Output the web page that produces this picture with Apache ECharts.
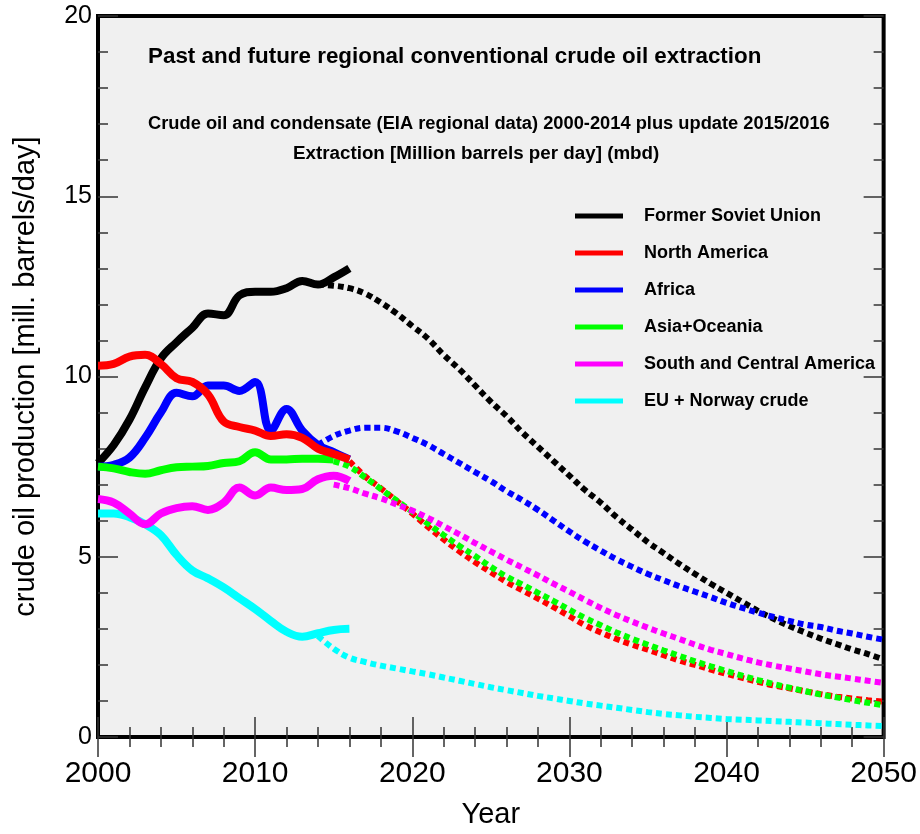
<!DOCTYPE html>
<html>
<head>
<meta charset="utf-8">
<script src="https://cdn.jsdelivr.net/npm/echarts@6/dist/echarts.min.js"></script>
<style>
html,body{margin:0;padding:0;background:#fff;}
#chart{width:920px;height:834px;}
</style>
</head>
<body>
<div id="chart"></div>
<script>
// ---- data ----
const histYears = [2000,2001,2002,2003,2004,2005,2006,2007,2008,2009,2010,2011,2012,2013,2014,2015,2016];
const fsuHist    = [7.6,8.1,8.8,9.7,10.5,10.95,11.35,11.75,11.7,12.25,12.35,12.35,12.45,12.65,12.55,12.75,13.0];
const naHist     = [10.3,10.35,10.55,10.6,10.35,9.95,9.85,9.5,8.75,8.6,8.5,8.35,8.4,8.3,8.0,7.85,7.7];
const africaHist = [7.5,7.55,7.75,8.3,9.0,9.55,9.45,9.75,9.75,9.6,9.85,8.5,9.1,8.5,8.1,7.9,7.7];
const asiaHist   = [7.5,7.45,7.35,7.3,7.4,7.48,7.5,7.52,7.6,7.65,7.9,7.7,7.7,7.72,7.72,7.7,null];
const scaHist    = [6.6,6.5,6.2,5.9,6.2,6.35,6.4,6.3,6.5,6.92,6.7,6.92,6.85,6.88,7.15,7.25,7.1];
const euHist     = [6.2,6.2,6.1,5.9,5.6,5.05,4.62,4.4,4.15,3.85,3.55,3.22,2.92,2.78,2.88,2.97,3.0];

const projYears = [2014,2015,2016,2017,2018,2019,2020,2021,2022,2023,2024,2025,2026,2027,2028,2029,2030,2031,2032,2033,2034,2035,2036,2037,2038,2039,2040,2041,2042,2043,2044,2045,2046,2047,2048,2049,2050];
const fsuProj    = [12.55,12.52,12.45,12.3,12.05,11.75,11.4,11.05,10.6,10.2,9.75,9.3,8.9,8.45,8.05,7.65,7.25,6.85,6.5,6.1,5.75,5.4,5.1,4.8,4.52,4.25,4.0,3.75,3.5,3.28,3.08,2.9,2.73,2.58,2.43,2.3,2.15];
const naProj     = [null,null,7.65,7.23,6.9,6.55,6.2,5.83,5.48,5.15,4.85,4.57,4.3,4.07,3.84,3.6,3.35,3.1,2.9,2.72,2.56,2.42,2.27,2.12,2.0,1.87,1.75,1.64,1.53,1.43,1.35,1.27,1.19,1.12,1.07,1.02,0.98];
const africaProj = [8.1,8.35,8.5,8.58,8.58,8.48,8.3,8.1,7.85,7.6,7.35,7.1,6.82,6.57,6.3,6.0,5.7,5.42,5.17,4.93,4.72,4.52,4.35,4.18,4.03,3.88,3.72,3.58,3.45,3.33,3.22,3.12,3.05,2.95,2.87,2.78,2.7];
const asiaProj   = [null,7.65,7.5,7.2,6.88,6.56,6.25,5.92,5.6,5.3,5.02,4.72,4.45,4.23,4.0,3.77,3.53,3.3,3.1,2.9,2.72,2.56,2.4,2.25,2.1,1.96,1.83,1.7,1.58,1.47,1.37,1.27,1.18,1.1,1.02,0.95,0.88];
const scaProj    = [null,7.0,6.9,6.75,6.62,6.45,6.28,6.08,5.85,5.62,5.38,5.15,4.92,4.7,4.48,4.25,4.03,3.8,3.58,3.38,3.2,3.03,2.87,2.72,2.56,2.42,2.3,2.18,2.07,1.98,1.9,1.82,1.74,1.68,1.62,1.56,1.5];
const euProj     = [2.8,2.45,2.2,2.08,1.98,1.9,1.82,1.74,1.65,1.56,1.47,1.38,1.3,1.22,1.14,1.07,1.0,0.93,0.87,0.81,0.75,0.69,0.64,0.6,0.56,0.53,0.5,0.48,0.46,0.44,0.42,0.4,0.38,0.36,0.34,0.32,0.3];

const seriesNames = ['Former Soviet Union','North America','Africa','Asia+Oceania','South and Central America','EU + Norway crude'];
const xTickLabels = [2000,2010,2020,2030,2040,2050];
const yTickLabels = [0,5,10,15,20];

// ---- build ----
const FONT = 'Liberation Sans, Arial, Helvetica, sans-serif';
const colors = ['#000000','#ff0000','#0000ff','#00ff00','#ff00ff','#00ffff'];
const hist = [fsuHist,naHist,africaHist,asiaHist,scaHist,euHist];
const proj = [fsuProj,naProj,africaProj,asiaProj,scaProj,euProj];

function pairs(xs, ys){ return xs.map((x,i)=>[x, ys[i]]); }

const series = [];
proj.forEach((arr,i)=>{
  series.push({
    name: seriesNames[i] + ' projection',
    type:'line', data: pairs(projYears, arr), showSymbol:false, symbol:'none',
    smooth:0.4, connectNulls:false, silent:true,
    lineStyle:{color:colors[i], width:6, type:[6,4], cap:'butt'},
    itemStyle:{color:colors[i]}, z:2
  });
});
[0,2,3,5,4,1].forEach(i=>{
  series.push({
    name: seriesNames[i],
    type:'line', data: pairs(histYears, hist[i]), showSymbol:false, symbol:'none',
    smooth:0.4, connectNulls:false, silent:true,
    lineStyle:{color:colors[i], width:8, cap:'butt', join:'round'},
    itemStyle:{color:colors[i]}, z:3
  });
});

const tickStyle = {color:'#333', width:1.5};
const xBase = {
  type:'value', min:2000, max:2050, interval:10,
  axisLine:{show:false}, splitLine:{show:false},
  axisTick:{show:true, inside:true, length:20, lineStyle:tickStyle},
  minorTick:{show:true, splitNumber:5, length:10, lineStyle:tickStyle},
};
const yBase = {
  type:'value', min:0, max:20, interval:5,
  axisLine:{show:false}, splitLine:{show:false},
  axisTick:{show:true, inside:true, length:20, lineStyle:tickStyle},
  minorTick:{show:true, splitNumber:5, length:10, lineStyle:tickStyle},
};

const option = {
  animation:false,
  backgroundColor:'#ffffff',
  textStyle:{fontFamily:FONT},
  title:[
    {text:'Past and future regional conventional crude oil extraction', left:143, top:41,
     textStyle:{fontFamily:FONT, fontSize:22.4, fontWeight:'bold', color:'#000'}},
    {text:'Crude oil and condensate (EIA regional data) 2000-2014 plus update 2015/2016', left:143, top:110,
     textStyle:{fontFamily:FONT, fontSize:18.3, fontWeight:'bold', color:'#000'}},
    {text:'Extraction [Million barrels per day] (mbd)', left:288, top:139,
     textStyle:{fontFamily:FONT, fontSize:18.8, fontWeight:'bold', color:'#000'}}
  ],
  legend:{
    data: seriesNames, orient:'vertical', left:570, top:202,
    icon:'rect', itemWidth:48, itemHeight:5, itemGap:19,
    selectedMode:false,
    itemStyle:{borderWidth:0},
    textStyle:{fontFamily:FONT, fontSize:18, fontWeight:'bold', color:'#000', lineHeight:18, padding:[0,0,0,16]}
  },
  grid:{left:98, right:35, top:16, bottom:95, show:true, backgroundColor:'#f0f0f0', borderColor:'#000', borderWidth:4, containLabel:false},
  xAxis:[
    Object.assign({}, xBase, {
      position:'bottom', name:'Year', nameLocation:'middle', nameGap:63,
      nameTextStyle:{fontFamily:FONT, fontSize:29, color:'#000'},
      axisLabel:{show:true, fontFamily:FONT, fontSize:30, color:'#000', margin:22,
        formatter:(v)=> xTickLabels.indexOf(v)>=0 ? String(v) : ''}
    }),
    Object.assign({}, xBase, {position:'top', axisLabel:{show:false}})
  ],
  yAxis:[
    Object.assign({}, yBase, {
      position:'left', name:'crude oil production [mill. barrels/day]', nameLocation:'middle', nameGap:58,
      nameTextStyle:{fontFamily:FONT, fontSize:29, color:'#000'},
      axisLabel:{show:true, fontFamily:FONT, fontSize:25, color:'#000', margin:6,
        formatter:(v)=> yTickLabels.indexOf(v)>=0 ? String(v) : ''}
    }),
    Object.assign({}, yBase, {position:'right', axisLabel:{show:false}})
  ],
  series: series
};

const chart = echarts.init(document.getElementById('chart'), null, {renderer:'canvas'});
chart.setOption(option);
</script>
</body>
</html>
